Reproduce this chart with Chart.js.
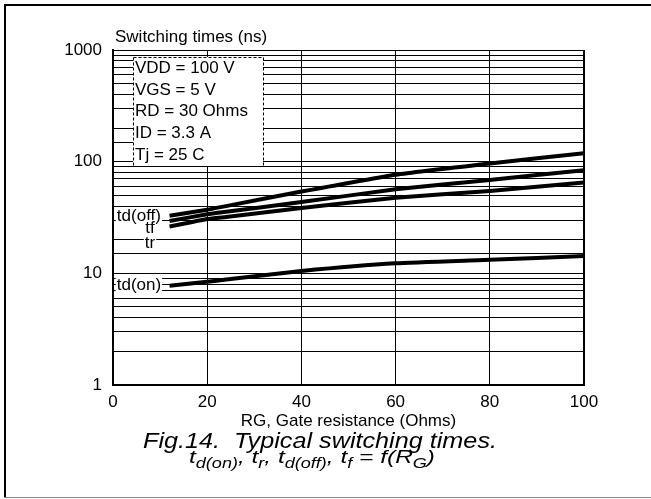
<!DOCTYPE html>
<html><head><meta charset="utf-8">
<script src="https://cdn.jsdelivr.net/npm/chart.js@4/dist/chart.umd.min.js"></script>
<style>html,body{margin:0;padding:0;background:#fff;overflow:hidden}#wrap{position:absolute;left:0;top:0;width:651px;height:499px}</style>
</head><body><div id="wrap"><canvas id="c" width="651" height="499"></canvas></div>
<script>
// ---- data ----
const rg = [12, 20, 24, 40, 60, 80, 100];
const tdOff = [32.8, 37.1, 40, 54, 76.5, 96.5, 119];
const tf = [29.4, 33.8, 35.6, 43.5, 56.5, 68.5, 84];
const tr = [26.2, 30.6, 32.0, 38.5, 47.5, 54.6, 65];
const tdOn = [7.75, 8.4, 8.8, 10.5, 12.3, 13.2, 14.3];
const xTickStep = 20;
const yMajor = [1, 10, 100, 1000];
const conditions = ['VDD = 100 V', 'VGS = 5 V', 'RD = 30 Ohms', 'ID = 3.3 A', 'Tj = 25 C'];
const seriesNames = ['td(off)', 'tf', 'tr', 'td(on)'];
const seriesLabelRG = [5.5, 7.85, 7.85, 5.5];
const seriesLabelVal = [32.7, 25.5, 18.7, 7.75];
const yTitle = 'Switching times (ns)';
const xTitle = 'RG, Gate resistance (Ohms)';
const caption1 = 'Fig.14.  Typical switching times.';
const caption2 = [['t',0],['d(on)',1],[', ',0],['t',0],['r',1],[', ',0],['t',0],['d(off)',1],[', ',0],['t',0],['f',1],[' = f(R',0],['G',1],[')',0]];

const FONT = '"Liberation Sans", Arial, sans-serif';
const mk = arr => rg.map((x, i) => ({x, y: arr[i]}));
const lineDs = (label, arr) => ({label, data: mk(arr), borderColor: '#000', borderWidth: 4, pointRadius: 0, fill: false, tension: 0.15});

const deco = {
  id: 'deco',
  beforeDraw(chart) {
    const c = chart.ctx;
    c.save();
    c.fillStyle = '#fff';
    c.fillRect(0, 0, chart.width, chart.height);
    c.fillStyle = '#000';
    c.fillRect(4, 4, chart.width - 4, 2);
    c.fillRect(4, 4, 2, 494);
    c.fillStyle = '#888';
    c.fillRect(4, 497, chart.width - 4, 1);
    c.restore();
  },
  afterDatasetsDraw(chart) {
    const c = chart.ctx, xs = chart.scales.x, ys = chart.scales.y;
    c.save();
    // y title
    c.font = '17px ' + FONT;
    c.fillStyle = '#000';
    c.textBaseline = 'middle';
    c.textAlign = 'left';
    c.fillText(yTitle, 115, 37);
    // conditions box
    c.fillStyle = '#fff';
    c.fillRect(133, 57, 130, 109);
    c.strokeStyle = '#000';
    c.lineWidth = 1;
    c.setLineDash([3, 2]);
    c.strokeRect(133.5, 57.5, 130, 109);
    c.setLineDash([]);
    c.fillStyle = '#000';
    conditions.forEach((t, i) => c.fillText(t, 135, 68.5 + i * 21.6));
    // series labels
    c.textAlign = 'center';
    seriesNames.forEach((t, i) => {
      const px = xs.getPixelForValue(seriesLabelRG[i]);
      const py = ys.getPixelForValue(seriesLabelVal[i]);
      const w = c.measureText(t).width;
      c.fillStyle = '#fff';
      c.fillRect(px - w / 2 - 1, py - 8, w + 2, 15);
      c.fillStyle = '#000';
      c.fillText(t, px, py);
    });
    // caption line 1 (stretched to reference width)
    c.fillStyle = '#000';
    c.textBaseline = 'alphabetic';
    c.textAlign = 'left';
    c.font = 'italic 22px ' + FONT;
    const w1 = c.measureText(caption1).width;
    const s1 = 354 / w1;
    c.save();
    c.translate(320 - 177, 448);
    c.scale(s1, 1);
    c.fillText(caption1, 0, 0);
    c.restore();
    // caption line 2 with subscripts
    const fMain = 'italic 19px ' + FONT, fSub = 'italic 14px ' + FONT;
    let total = 0;
    caption2.forEach(([t, s]) => { c.font = s ? fSub : fMain; total += c.measureText(t).width; });
    const s2 = 246 / total;
    c.save();
    c.translate(312 - 123, 0);
    c.scale(s2, 1);
    let x = 0;
    caption2.forEach(([t, s]) => {
      c.font = s ? fSub : fMain;
      c.fillText(t, x, s ? 468 : 463);
      x += c.measureText(t).width;
    });
    c.restore();
    c.restore();
  }
};

new Chart(document.getElementById('c'), {
  type: 'line',
  data: { datasets: [lineDs('td(off)', tdOff), lineDs('tf', tf), lineDs('tr', tr), lineDs('td(on)', tdOn)] },
  options: {
    responsive: false,
    devicePixelRatio: 1,
    animation: false,
    layout: { padding: { left: 0, right: 67, top: 50, bottom: 67 } },
    plugins: { legend: { display: false }, tooltip: { enabled: false } },
    scales: {
      x: {
        type: 'linear', min: 0, max: 100,
        ticks: { stepSize: xTickStep, color: '#000', font: { family: FONT, size: 17 }, padding: 7, maxRotation: 0 },
        grid: { color: '#000', lineWidth: ctx => (ctx.tick && ctx.tick.value === 100) ? 2 : 1, drawTicks: false },
        border: { color: '#000', width: 2 },
        title: { display: true, text: xTitle, color: '#000', font: { family: FONT, size: 17 }, padding: 0 },
        afterFit: s => { s.height = 47; }
      },
      y: {
        type: 'logarithmic', min: 1, max: 1000,
        ticks: { autoSkip: false, color: '#000', font: { family: FONT, size: 17 }, padding: 11,
          callback: v => yMajor.includes(v) ? String(v) : '' },
        grid: { color: '#000', lineWidth: 1, drawTicks: false },
        border: { color: '#000', width: 2 },
        afterFit: s => { s.width = 113; }
      }
    }
  },
  plugins: [deco]
});
</script></body></html>
